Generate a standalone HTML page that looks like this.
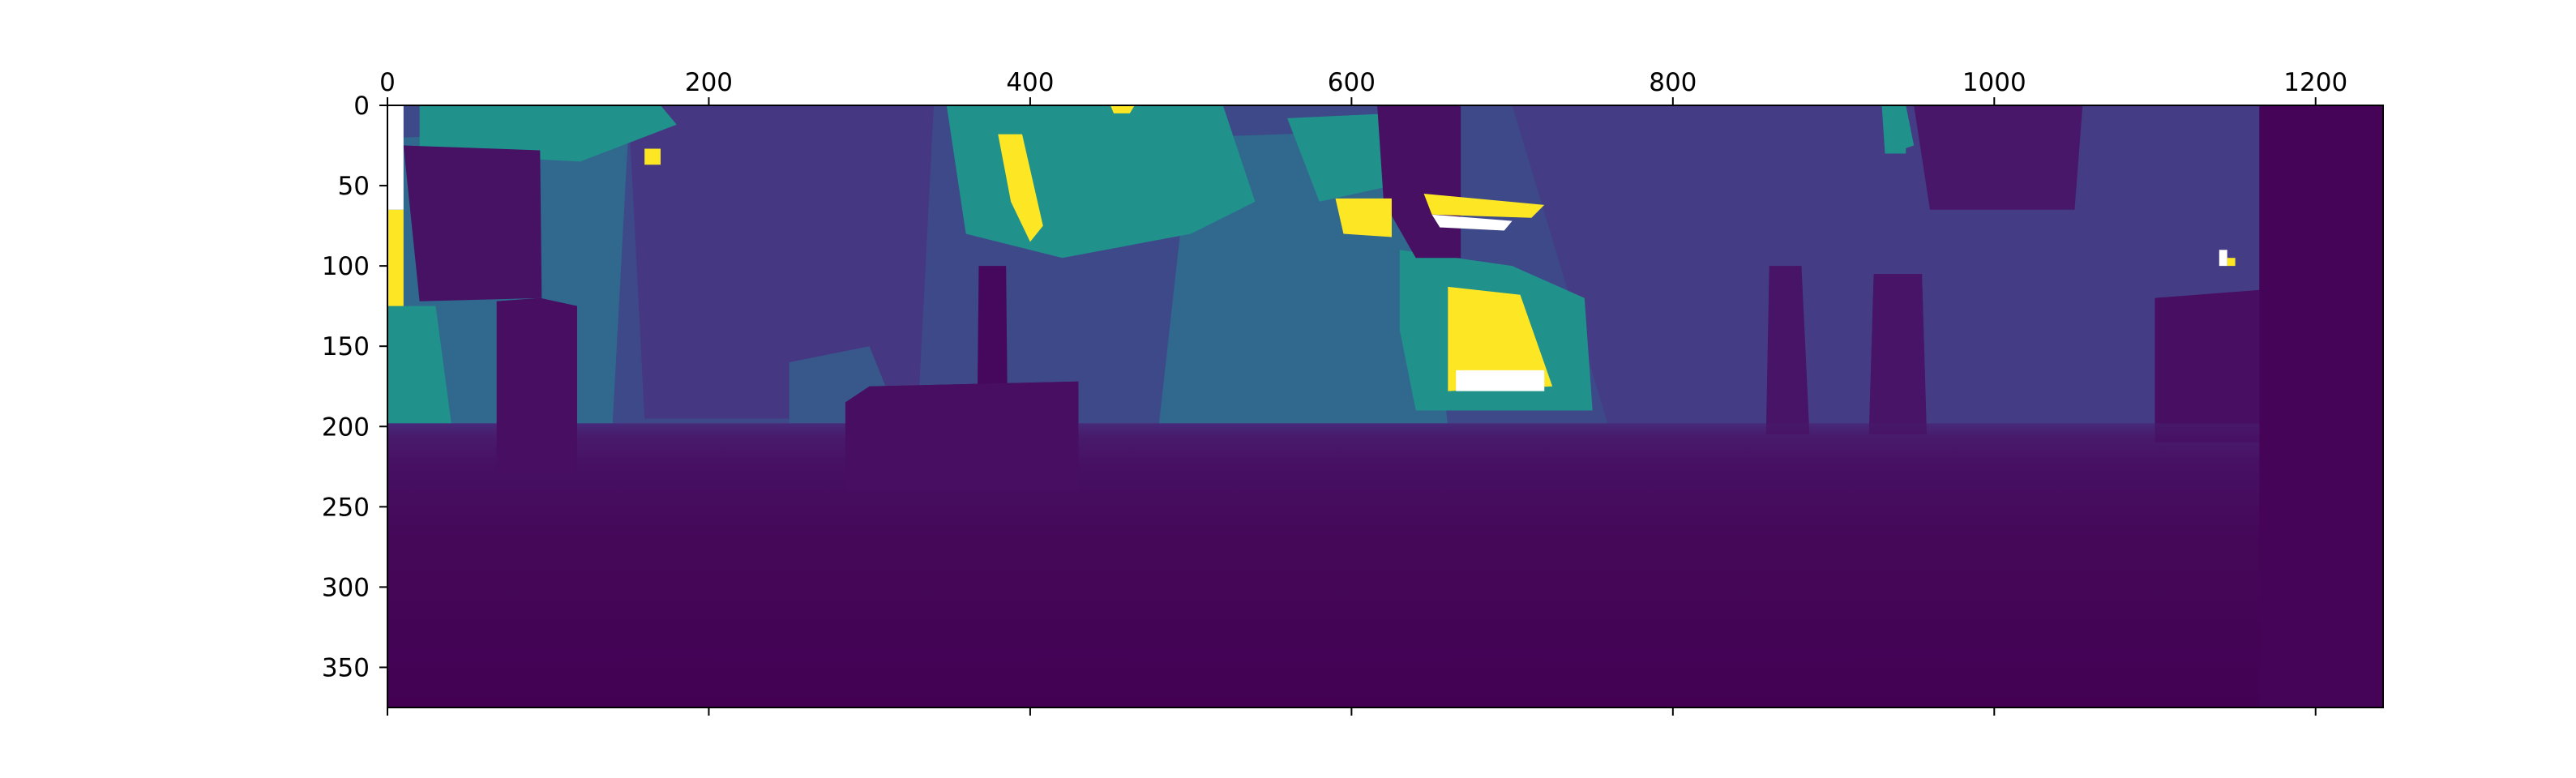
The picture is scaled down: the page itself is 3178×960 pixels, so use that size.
<!DOCTYPE html>
<html><head><meta charset="utf-8">
<style>
html,body{margin:0;padding:0;background:#fff;}
body{width:3178px;height:960px;overflow:hidden;position:relative;font-family:"DejaVu Sans","Liberation Sans",sans-serif;}
</style></head>
<body>
<svg id="chart" width="3178" height="960" xmlns="http://www.w3.org/2000/svg" style="position:absolute;left:0;top:0">
<defs>
<linearGradient id="ground" x1="0" y1="0" x2="0" y2="1">
<stop offset="0" stop-color="#472a7a"/>
<stop offset="0.05" stop-color="#481a6c"/>
<stop offset="0.15" stop-color="#471063"/>
<stop offset="0.4" stop-color="#450859"/>
<stop offset="1" stop-color="#440154"/>
</linearGradient>
</defs>
<svg id="img" x="478" y="130" width="2462" height="743" viewBox="0 0 1242 375" preserveAspectRatio="none"></svg>
<g id="axes"></g>
</svg>
<script>
const xTicks=[0,200,400,600,800,1000,1200];
const yTicks=[0,50,100,150,200,250,300,350];
const imgW=1242, imgH=375;
const regionColors=["#3e4989","#31688e","#31688e","#453781","#443c84","#21918c","#21918c","#21918c","#21918c","#38588c","#471164","#481f70","#471063","#481769","#450457","#471164","#481f70","#481f70","#21918c","#fde725","#ffffff","#fde725","#fde725","#fde725","#fde725","#21918c","#fde725","#ffffff","#fde725","#ffffff","#471063","#481a6c","#46085c","#ffffff","#fde725","#21918c"];
const regionPts=[
"0,0 1242,0 1242,205 0,205",
"10,20 150,15 140,200 10,200",
"500,20 640,15 660,200 480,200",
"150,0 340,0 330,195 160,195",
"700,0 1242,0 1242,200 760,200",
"20,0 170,0 180,12 120,35 20,30",
"348,0 520,0 540,60 500,80 420,95 360,80",
"560,8 625,5 625,50 580,60",
"630,90 700,100 745,120 750,190 640,190 630,140",
"250,160 300,150 320,200 250,200",
"10,25 95,28 96,120 20,122",
"68,122 95,120 118,125 118,230 68,230",
"616,0 668,0 668,95 640,95 620,60",
"950,0 1055,0 1050,65 960,65",
"1165,0 1242,0 1242,375 1165,375",
"1100,120 1165,115 1165,210 1100,210",
"860,100 880,100 885,205 858,205",
"925,105 955,105 958,205 922,205",
"0,125 30,125 40,200 0,200",
"0,65 10,65 10,125 0,125",
"0,0 10,0 10,65 0,65",
"380,18 395,18 408,75 400,85 388,60",
"590,58 625,58 625,82 595,80",
"160,27 170,27 170,37 160,37",
"450,0 465,0 462,5 452,5",
"930,0 945,0 945,30 932,30",
"660,113 705,118 725,175 660,178",
"665,165 720,165 720,178 665,178",
"645,55 720,62 712,70 650,68",
"650,68 700,72 695,78 655,76",
"285,185 300,175 430,172 430,240 285,240",
"0,198 1242,198 1242,215 0,215",
"368,100 385,100 386,200 367,200",
"1140,90 1145,90 1145,100 1140,100",
"1145,95 1150,95 1150,100 1145,100",
"930,0 945,0 950,25 935,30"
];
const svgNS="http://www.w3.org/2000/svg";
const img=document.getElementById('img');
regionPts.forEach((p,i)=>{
  if(i===31){
    const r=document.createElementNS(svgNS,'rect');
    
    
    r.setAttribute('x',0);r.setAttribute('y',198);r.setAttribute('width',imgW);r.setAttribute('height',imgH-198);
    r.setAttribute('fill','url(#ground)');
    img.appendChild(r);
    return;
  }
  const el=document.createElementNS(svgNS,'polygon');
  
  
  el.setAttribute('points',p);
  el.setAttribute('fill',regionColors[i]);
  img.appendChild(el);
});
const groundEl=img.querySelector('rect');
img.appendChild(groundEl);
[30,11,14,16,17,15].forEach(i=>{
  const el=document.createElementNS(svgNS,'polygon');
  
  
  el.setAttribute('points',regionPts[i]);
  el.setAttribute('fill',i===14?'#450457':'#470e61');
  el.setAttribute('opacity',i===14||i===30||i===11?'1':'0.6');
  img.appendChild(el);
});
const L=478,T=130,R=2940,B=873;
const sx=v=>L+v*(R-L)/imgW, sy=v=>T+v*(B-T)/imgH;
const ax=document.getElementById('axes');
function add(tag,attrs){const e=document.createElementNS(svgNS,tag);for(const k in attrs)e.setAttribute(k,attrs[k]);ax.appendChild(e);return e;}
const frame=add('rect',{x:L,y:T,width:R-L,height:B-T,fill:'none',stroke:'#000','stroke-width':2});


xTicks.forEach(v=>{
  const x=sx(v);
  const t1=add('line',{x1:x,y1:T,x2:x,y2:T-10,stroke:'#000','stroke-width':2});
  
  
  const t2=add('line',{x1:x,y1:B,x2:x,y2:B+10,stroke:'#000','stroke-width':2});
  
  
  const tx=add('text',{x:x,y:T-18,'text-anchor':'middle','font-size':31,fill:'#000'});
  tx.textContent=v;
  
  
});
yTicks.forEach(v=>{
  const y=sy(v);
  const t=add('line',{x1:L,y1:y,x2:L-10,y2:y,stroke:'#000','stroke-width':2});
  
  
  const tx=add('text',{x:L-22,y:y+11,'text-anchor':'end','font-size':31,fill:'#000'});
  tx.textContent=v;
  
  
});
</script>
</body></html>
